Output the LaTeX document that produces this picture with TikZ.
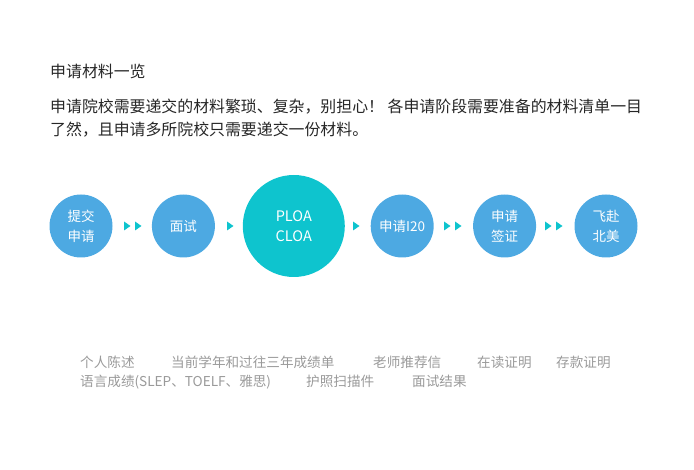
\documentclass[tikz,border=0pt]{standalone}
\usepackage{fontspec}
\setmainfont{Noto Sans CJK SC}
\usetikzlibrary{positioning}
\definecolor{stepblue}{HTML}{4DA9E2}
\definecolor{stepteal}{HTML}{0EC4CE}
\definecolor{listgray}{HTML}{9A9A9A}

\begin{document}
\begin{tikzpicture}[x=1pt,y=-1pt,
            stepnode/.style={circle, fill=stepblue, text=white, inner sep=0pt, minimum size=63pt, align=center, font=\fontsize{13.5}{20}\selectfont},
            bignode/.style={stepnode, fill=stepteal, minimum size=102pt, font=\fontsize{14.5}{20}\selectfont},
            headtext/.style={anchor=base west, text=black!85, inner sep=0pt, font=\fontsize{15.9}{23}\selectfont},
            listtext/.style={anchor=base west, text=listgray, inner sep=0pt, font=\fontsize{13.6}{18}\selectfont},
            arrowtri/.style={fill=stepteal},
            ]
            \useasboundingbox (0,0) rectangle (694,470);

            %Text
            \node[headtext] (title) at (50,78) {申请材料一览};
            \node[headtext] (para1) at (50,113) {申请院校需要递交的材料繁琐、复杂，别担心！ 各申请阶段需要准备的材料清单一目};
            \node[headtext] (para2) at (50,136) {了然，且申请多所院校只需要递交一份材料。};

            %Nodes
            \node[stepnode]      (submit)                          at (81,226) {提交\\申请};
            \node[stepnode]      (interview) [right=39pt of submit]    {面试};
            \node[bignode]       (ploa)      [right=27.5pt of interview] {PLOA\\CLOA};
            \node[stepnode]      (itwenty)   [right=25.5pt of ploa]      {申请I20};
            \node[stepnode]      (visa)      [right=39pt of itwenty]     {申请\\签证};
            \node[stepnode]      (fly)       [right=38pt of visa]        {飞赴\\北美};

            %Arrows
            \foreach \x in {124,135,227,353,444,455,545,556}
                \fill[arrowtri] (\x,221.5) -- (\x+6.5,226) -- (\x,230.5) -- cycle;

            %Materials
            \node[listtext] (statement)  at (80,368)  {个人陈述};
            \node[listtext] (transcript) at (171,368) {当前学年和过往三年成绩单};
            \node[listtext] (reference)  at (373,368) {老师推荐信};
            \node[listtext] (enrolled)   at (477,368) {在读证明};
            \node[listtext] (deposit)    at (556,368) {存款证明};
            \node[listtext] (language)   at (80,387)  {语言成绩(SLEP、TOELF、雅思)};
            \node[listtext] (passport)   at (306,387) {护照扫描件};
            \node[listtext] (result)     at (412,387) {面试结果};

        \end{tikzpicture}
\end{document}
